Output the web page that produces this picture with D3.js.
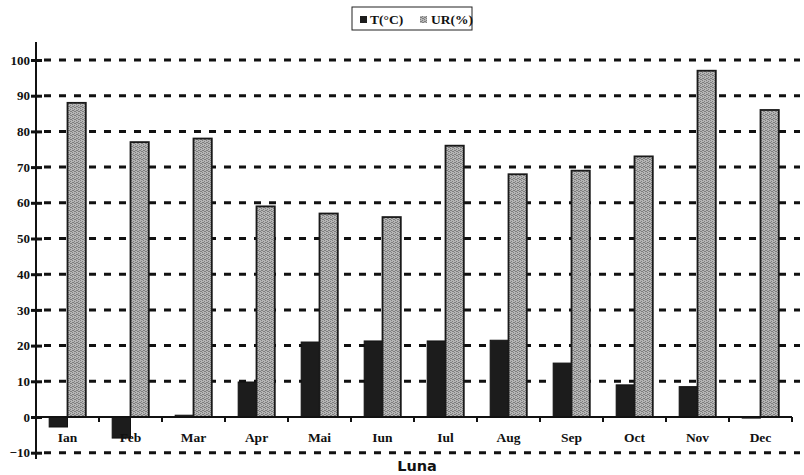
<!DOCTYPE html>
<html>
<head>
<meta charset="utf-8">
<script src="https://cdn.jsdelivr.net/npm/d3@7"></script>
<style>
  body { margin: 0; background: #fff; }
  svg text { fill: #111; }
</style>
</head>
<body>
<div id="chart"></div>
<script>
// Data
const months = ["Ian", "Feb", "Mar", "Apr", "Mai", "Iun", "Iul", "Aug", "Sep", "Oct", "Nov", "Dec"];
const tempValues = [-2.8, -5.9, 0.5, 9.8, 21, 21.3, 21.3, 21.5, 15.1, 9, 8.5, -0.3];
const urValues = [88, 77, 78, 59, 57, 56, 76, 68, 69, 73, 97, 86];
const yTicks = [-10, 0, 10, 20, 30, 40, 50, 60, 70, 80, 90, 100];
const seriesNames = ["T(°C)", "UR(%)"];

const width = 804;
const height = 475;

const serif = "'Liberation Serif', 'DejaVu Serif', serif";

const svg = d3.select("#chart")
    .append("svg")
    .attr("width", width)
    .attr("height", height);

// stippled grey texture for the UR bars
const defs = svg.append("defs");
const pat = defs.append("pattern")
    .attr("id", "dots")
    .attr("width", 4)
    .attr("height", 4)
    .attr("patternUnits", "userSpaceOnUse");
pat.append("rect").attr("width", 4).attr("height", 4).attr("fill", "#b6b6b6");
[[0, 0], [2, 1], [1, 2], [3, 3], [2, 3], [0, 2]].forEach(([px, py]) => {
    pat.append("rect").attr("x", px).attr("y", py)
        .attr("width", 1).attr("height", 1).attr("fill", "#7e7e7e");
});

const x0 = d3.scaleBand()
    .domain(months)
    .range([36, 792])
    .padding(0);

const x1 = d3.scaleBand()
    .domain(seriesNames)
    .range([0, x0.bandwidth()])
    .paddingInner(0)
    .paddingOuter(0.72);

const y = d3.scaleLinear()
    .domain([-10, 100])
    .range([452.7, 60]);

// dashed grid lines
svg.append("g")
    .selectAll("line")
    .data(yTicks.filter(d => d !== 0))
    .join("line")
    .attr("x1", 44)
    .attr("x2", 800)
    .attr("y1", d => y(d))
    .attr("y2", d => y(d))
    .attr("stroke", "#111")
    .attr("stroke-width", 3)
    .attr("stroke-dasharray", "7,8");

// bars
const rows = months.map((m, i) => ({ month: m, t: tempValues[i], ur: urValues[i] }));
const groups = svg.append("g")
    .selectAll("g")
    .data(rows)
    .join("g")
    .attr("transform", d => `translate(${x0(d.month)},0)`);

groups.append("rect")
    .attr("x", x1("T(°C)"))
    .attr("width", x1.bandwidth())
    .attr("y", d => y(Math.max(0, d.t)))
    .attr("height", d => Math.abs(y(d.t) - y(0)))
    .attr("fill", "#1c1c1c")
    .attr("stroke", "#111")
    .attr("stroke-width", 1);

groups.append("rect")
    .attr("x", x1("UR(%)"))
    .attr("width", x1.bandwidth())
    .attr("y", d => y(d.ur))
    .attr("height", d => y(0) - y(d.ur))
    .attr("fill", "url(#dots)")
    .attr("stroke", "#1a1a1a")
    .attr("stroke-width", 1.8);

// x axis line at zero with small ticks at category borders
svg.append("line")
    .attr("x1", 36).attr("x2", 792)
    .attr("y1", y(0)).attr("y2", y(0))
    .attr("stroke", "#111").attr("stroke-width", 2);

svg.append("g")
    .selectAll("line")
    .data(months)
    .join("line")
    .attr("x1", d => x0(d) + x0.bandwidth())
    .attr("x2", d => x0(d) + x0.bandwidth())
    .attr("y1", y(0))
    .attr("y2", y(0) + 5)
    .attr("stroke", "#111")
    .attr("stroke-width", 2);

svg.append("g")
    .selectAll("text")
    .data(months)
    .join("text")
    .attr("x", d => x0(d) + x0.bandwidth() / 2)
    .attr("y", 442)
    .attr("text-anchor", "middle")
    .style("font-family", serif)
    .style("font-weight", "bold")
    .style("font-size", "13.5px")
    .text(d => d);

// y axis
const yAxis = d3.axisLeft(y)
    .tickValues(yTicks)
    .tickSize(0)
    .tickPadding(6);

const gy = svg.append("g")
    .attr("transform", "translate(36,0)")
    .call(yAxis);
gy.select(".domain").remove();
gy.selectAll("text")
    .style("font-family", serif)
    .style("font-weight", "bold")
    .style("font-size", "13px")
    .attr("fill", "#111");
gy.selectAll(".tick").append("line")
    .attr("x1", -5).attr("x2", 6)
    .attr("stroke", "#111").attr("stroke-width", 3);

svg.append("line")
    .attr("x1", 36).attr("x2", 36)
    .attr("y1", 42).attr("y2", 459)
    .attr("stroke", "#111").attr("stroke-width", 2);

// axis title
svg.append("text")
    .attr("x", 417)
    .attr("y", 471)
    .attr("text-anchor", "middle")
    .style("font-family", "'DejaVu Sans', sans-serif")
    .style("font-weight", "bold")
    .style("font-size", "14.5px")
    .text("Luna");

// legend
const legend = svg.append("g").attr("transform", "translate(352,7)");
legend.append("rect")
    .attr("width", 120).attr("height", 23)
    .attr("fill", "#fff")
    .attr("stroke", "#222").attr("stroke-width", 1);
legend.append("rect")
    .attr("x", 8).attr("y", 9).attr("width", 7).attr("height", 7)
    .attr("fill", "#1c1c1c");
legend.append("text")
    .attr("x", 18).attr("y", 17)
    .style("font-family", serif)
    .style("font-weight", "bold")
    .style("font-size", "13.5px")
    .text(seriesNames[0]);
legend.append("rect")
    .attr("x", 68).attr("y", 9).attr("width", 7).attr("height", 7)
    .attr("fill", "url(#dots)");
legend.append("text")
    .attr("x", 79).attr("y", 17)
    .style("font-family", serif)
    .style("font-weight", "bold")
    .style("font-size", "13.5px")
    .text(seriesNames[1]);
</script>
</body>
</html>
